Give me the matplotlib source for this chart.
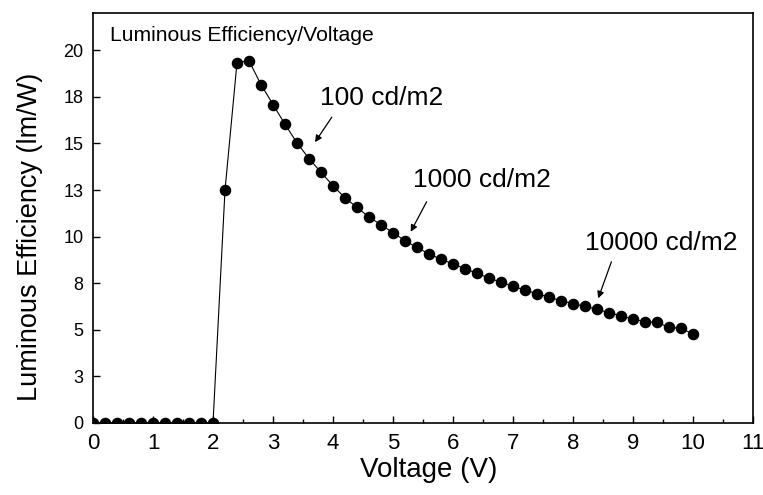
import numpy as np
import matplotlib
matplotlib.use("Agg")
import matplotlib.pyplot as plt
from matplotlib.ticker import MultipleLocator, FuncFormatter

plt.rcParams["font.family"] = ["Liberation Sans", "DejaVu Sans"]

# ── Data ────────────────────────────────────────────────────────────────────────
voltage = np.round(np.arange(0, 10.01, 0.2), 1)
efficiency = [
    0, 0, 0, 0, 0, 0, 0, 0, 0, 0, 0,                 # 0.0 – 2.0 V
    12.5, 19.34, 19.43, 18.16, 17.09, 16.03, 15.03,  # 2.2 – 3.4 V
    14.19, 13.45, 12.73, 12.08, 11.57, 11.05, 10.64,  # 3.6 – 4.8 V
    10.21, 9.78, 9.42, 9.07, 8.79, 8.53, 8.28,        # 5.0 – 6.2 V
    8.03, 7.78, 7.55, 7.34, 7.13, 6.94, 6.75,         # 6.4 – 7.6 V
    6.56, 6.40, 6.26, 6.10, 5.92, 5.74, 5.58,         # 7.8 – 9.0 V
    5.43, 5.40, 5.13, 5.08, 4.77,                     # 9.2 – 10.0 V
]

TITLE = "Luminous Efficiency/Voltage"
ANNOTATIONS = [
    # label, text position, arrow tip, arrow tail
    ("100 cd/m2",   (3.78, 17.45), (3.70, 15.07), (3.98, 16.41)),
    ("1000 cd/m2",  (5.33, 13.03), (5.295, 10.26), (5.56, 11.87)),
    ("10000 cd/m2", (8.20, 9.68),  (8.42, 6.69),  (8.64, 8.65)),
]

# ── Figure ──────────────────────────────────────────────────────────────────────
fig = plt.figure(figsize=(7.63, 4.95), dpi=100)
ax = fig.add_axes([0.1219, 0.1455, 0.8650, 0.8282])

ax.plot(voltage, efficiency, color="black", lw=0.8, marker="o",
        markersize=7.3, markerfacecolor="black", markeredgecolor="black")

ax.set_xlim(0, 11)
ax.set_ylim(0, 22)
ax.xaxis.set_major_locator(MultipleLocator(1))
ax.xaxis.set_minor_locator(MultipleLocator(0.5))
ax.yaxis.set_major_locator(MultipleLocator(2.5))
ax.yaxis.set_major_formatter(FuncFormatter(lambda v, p: f"{int(v + 0.5)}"))

ax.tick_params(axis="both", which="both", direction="in",
               top=False, right=False, width=1.0)
ax.tick_params(axis="x", which="major", length=5, labelsize=16, pad=7)
ax.tick_params(axis="x", which="minor", length=3)
ax.tick_params(axis="y", which="major", length=5, labelsize=13, pad=7)
for s in ax.spines.values():
    s.set_linewidth(1.2)

ax.set_xlabel("Voltage (V)", fontsize=20)
ax.xaxis.set_label_coords(0.508, -0.082)
ax.set_ylabel("Luminous Efficiency (lm/W)", fontsize=19.5)
ax.yaxis.set_label_coords(-0.0765, 0.4544)

ax.text(0.026, 0.946, TITLE, transform=ax.transAxes, fontsize=15.2,
        ha="left", va="center")

for label, txt_xy, tip_xy, tail_xy in ANNOTATIONS:
    ax.text(txt_xy[0], txt_xy[1], label, fontsize=19, ha="left", va="center")
    ax.annotate("", xy=tip_xy, xytext=tail_xy,
                arrowprops=dict(arrowstyle="-|>", color="black", lw=0.9,
                                mutation_scale=10, shrinkA=0, shrinkB=0))

fig.savefig("out.png", dpi=100)
